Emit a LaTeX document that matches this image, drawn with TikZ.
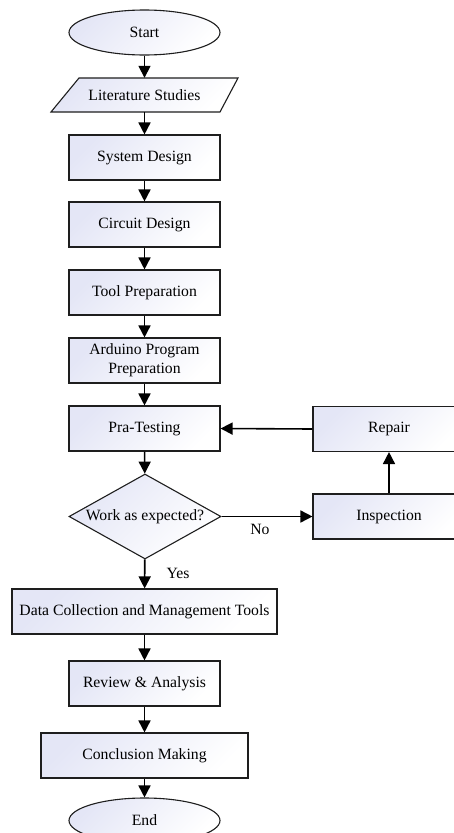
\documentclass[tikz,border=0pt]{standalone}
\usepackage{fontspec}
\setmainfont{Liberation Serif}
\usetikzlibrary{shapes.geometric,arrows.meta}
\definecolor{boxfill}{RGB}{228,230,246}
\definecolor{edge}{RGB}{30,30,30}
\tikzset{
  shadedfill/.style={top color=boxfill, bottom color=white, shading angle=45, draw=edge, line width=1.1pt},
  procbox/.style={shadedfill, rectangle, minimum width=151pt, minimum height=45pt, inner sep=0pt, align=center},
  term/.style={shadedfill, ellipse, minimum width=151pt, minimum height=45pt, inner sep=0pt},
  iotext/.style={rectangle, minimum width=160pt, minimum height=34pt, inner sep=0pt},
  decision/.style={shadedfill, diamond, minimum width=152pt, minimum height=85pt, inner sep=0pt, aspect=1.79},
  flow/.style={draw=black, line width=1.6pt, -{Triangle[length=12pt,width=12pt]}},
  lbl/.style={font=\fontsize{15.7}{18}\selectfont, inner sep=0pt}
}
\begin{document}
\begin{tikzpicture}[x=1pt,y=-1pt,font=\fontsize{15.7}{19}\selectfont]
\useasboundingbox (0,0) rectangle (454,833);
\fill[white] (0,0) rectangle (454,833);

% input/output parallelogram, outline drawn around its text node
\coordinate (litc) at (144.5,95);
\path[shadedfill] ([shift={(-65.5,-17)}]litc) -- ([shift={(93.5,-17)}]litc)
  -- ([shift={(75.5,17)}]litc) -- ([shift={(-93.5,17)}]litc) -- cycle;

% main column
\node[term]     (start)  at (144.5,32.5)  {Start};
\node[iotext]   (lit)    at (litc)        {Literature Studies};
\node[procbox]  (sys)    at (144.5,157.5) {System Design};
\node[procbox]  (circ)   at (144.5,224.5) {Circuit Design};
\node[procbox]  (tool)   at (144.5,292.5) {Tool Preparation};
\node[procbox]  (ard)    at (144.5,360.5) {Arduino Program\\Preparation};
\node[procbox]  (pra)    at (144.5,428.5) {Pra-Testing};
\node[decision] (work)   at (145,516.5)   {Work as expected?};
\node[procbox, minimum width=265pt] (data) at (144.5,611.5) {Data Collection and Management Tools};
\node[procbox]  (rev)    at (144.5,683.5) {Review \& Analysis};
\node[procbox, minimum width=207pt] (conc) at (144.5,755.5) {Conclusion Making};
\node[term]     (end)    at (144.5,820.5) {End};

% repair loop
\node[procbox, minimum width=152pt] (rep)  at (389,429)   {Repair};
\node[procbox, minimum width=152pt] (insp) at (389,516.5) {Inspection};

% connectors
\draw[flow] (start) -- (lit);
\draw[flow] (lit) -- (sys);
\draw[flow] (sys) -- (circ);
\draw[flow] (circ) -- (tool);
\draw[flow] (tool) -- (ard);
\draw[flow] (ard) -- (pra);
\draw[flow] (pra) -- (work);
\draw[flow] (work) -- (data);
\draw[flow] (data) -- (rev);
\draw[flow] (rev) -- (conc);
\draw[flow] (conc) -- (end);
\draw[flow] (work.east) -- (insp.west);
\draw[flow] (insp) -- (rep);
\draw[flow] (rep.west) -- (pra.east);

% branch labels
\node[lbl] (no)  at (260,529) {No};
\node[lbl] (yes) at (178,573) {Yes};
\end{tikzpicture}
\end{document}
